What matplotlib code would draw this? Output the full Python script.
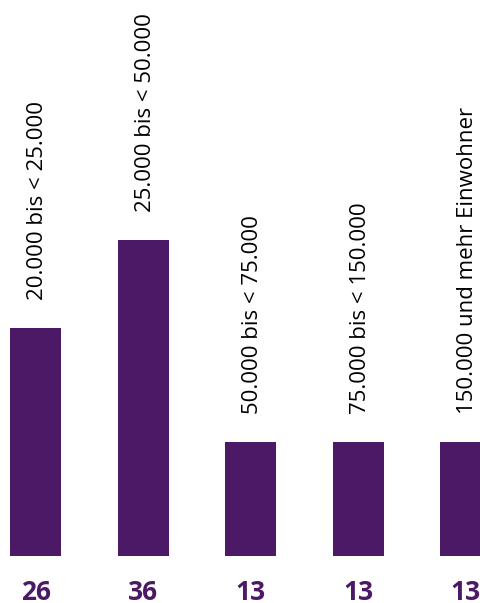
import matplotlib
matplotlib.use('Agg')
import matplotlib.pyplot as plt

# size classes of municipalities and their counts
klassen = ['20.000 bis < 25.000', '25.000 bis < 50.000', '50.000 bis < 75.000',
           '75.000 bis < 150.000', '150.000 und mehr Einwohner']
anzahl = [26, 36, 13, 13, 13]

lila = '#4b1966'

plt.rcParams['font.family'] = ['Open Sans', 'DejaVu Sans']

fig = plt.figure(figsize=(4.81, 6.03), dpi=100)
ax = fig.add_axes([0, 0, 1, 1])

pos = list(range(len(anzahl)))
ax.bar(pos, anzahl, width=0.474, color=lila)

for i, v in zip(pos, anzahl):
    # category name, rotated, above each bar
    ax.annotate(klassen[i], xy=(i, v), xytext=(2, 28), textcoords='offset pixels',
                rotation=90, ha='center', va='bottom', fontsize=16, color='black')
    # count below the bar
    ax.annotate(str(v), xy=(i, 0), xytext=(0, -37), textcoords='offset pixels',
                ha='center', va='center', fontsize=19, fontweight='bold', color=lila)

ax.set_xlim(-0.3326, 4.142)
ax.set_ylim(-5.39, 63.36)
ax.axis('off')

fig.savefig('out.png', dpi=100)
